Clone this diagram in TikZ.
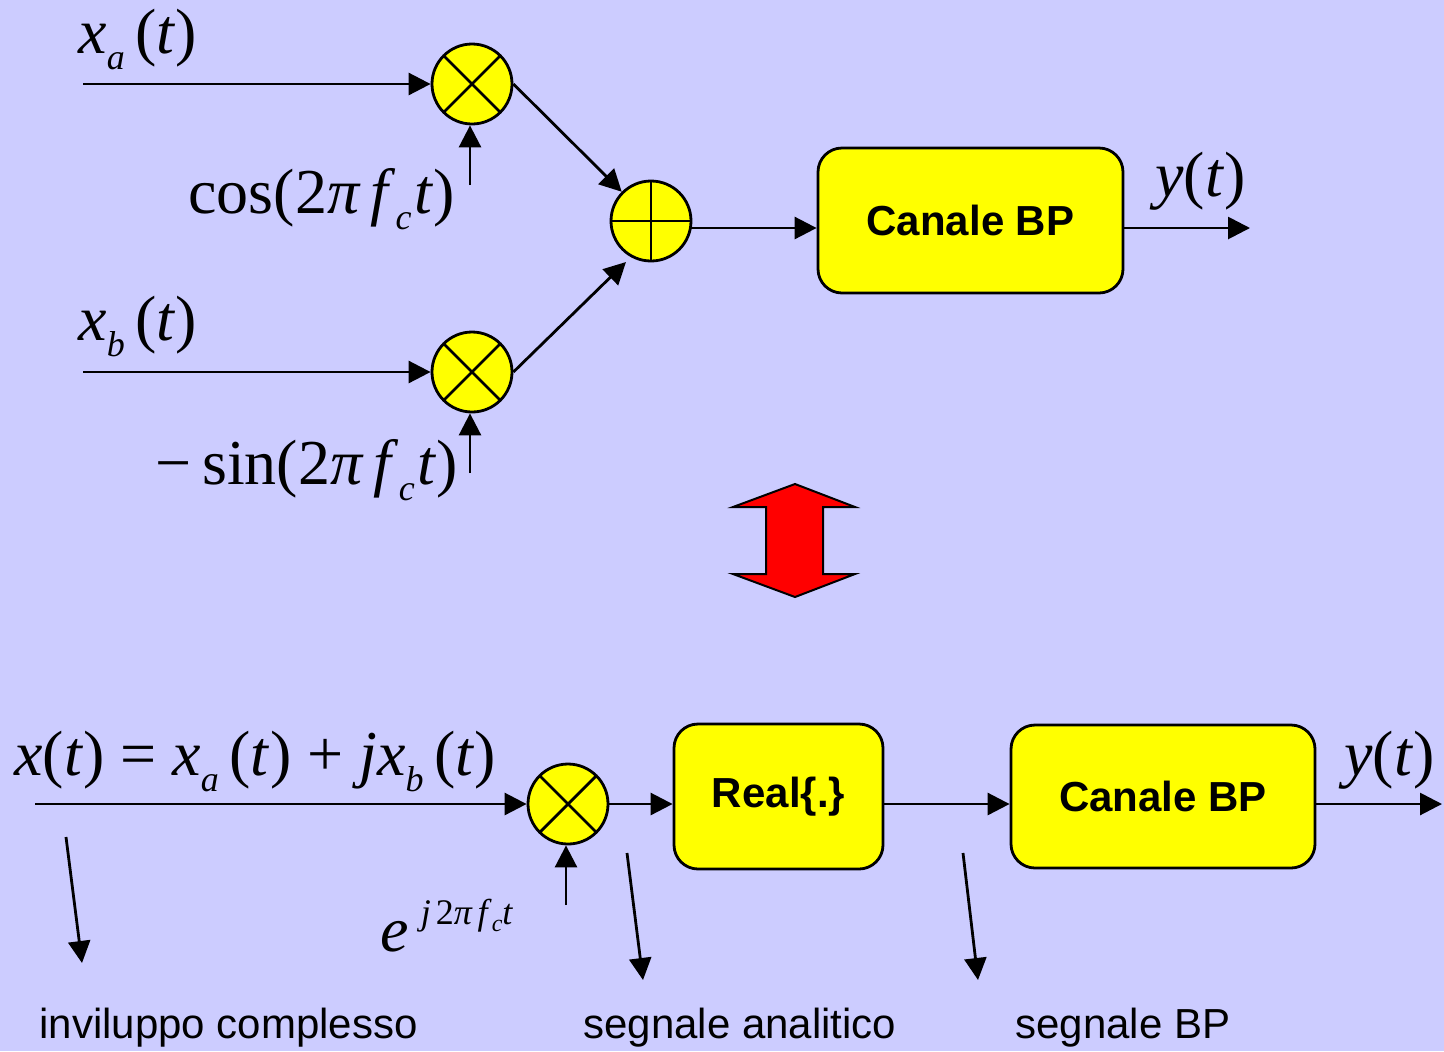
\documentclass[tikz,border=0pt]{standalone}
\usepackage{fontspec}
\setmainfont{Liberation Serif}
\newfontfamily\lsans{Liberation Sans}
\usepackage{graphicx}
\usetikzlibrary{arrows.meta}
\definecolor{bgcol}{RGB}{204,204,255}
\definecolor{blockyellow}{RGB}{255,255,0}
\definecolor{arrowred}{RGB}{255,0,0}
% italic variable and lowered italic subscript
\newcommand\mi[1]{\textit{#1}}
\newcommand\sbi[1]{\raisebox{-0.26em}{\fontsize{18pt}{18pt}\selectfont\itshape #1}}
\newcommand\opsp{\hspace{0.25em}}
\tikzset{
  wire/.style={line width=1.4pt},
  arr/.style={wire,-{Triangle[length=11pt,width=11pt]}},
  mult/.style={circle, draw, line width=1.4pt, fill=blockyellow,
    minimum size=40pt, inner sep=0pt,
    path picture={\draw[line width=1.4pt]
      (path picture bounding box.north west) -- (path picture bounding box.south east)
      (path picture bounding box.north east) -- (path picture bounding box.south west);}},
  adder/.style={circle, draw, line width=1.4pt, fill=blockyellow,
    minimum size=40pt, inner sep=0pt,
    path picture={\draw[line width=1.4pt]
      (path picture bounding box.north) -- (path picture bounding box.south)
      (path picture bounding box.west) -- (path picture bounding box.east);}},
  block/.style={draw, line width=1.4pt, fill=blockyellow, rounded corners=12pt,
    inner sep=0pt, font=\lsans\bfseries\fontsize{21pt}{25pt}\selectfont},
  mt/.style={inner sep=0pt, anchor=base west, font=\fontsize{32pt}{38pt}\selectfont},
  lab/.style={inner sep=0pt, anchor=base west, font=\lsans\fontsize{21pt}{25pt}\selectfont},
}
\begin{document}
\begin{tikzpicture}[x=0.5pt,y=-0.5pt]
\useasboundingbox (0,0) rectangle (1444,1051);
\fill[bgcol] (0,0) rectangle (1444,1051);

% ---- quadrature modulator ----
\node[mult] (m1) at (472,84) {};
\node[mult] (m2) at (472,372) {};
\node[adder] (add) at (651,221) {};
\node[block, minimum width=152.5pt, minimum height=72.5pt] (cb1) at (970.5,220.5) {Canale BP};

\coordinate (ina) at (83,84);
\coordinate (inb) at (83,372);
\coordinate (cosin) at (470,185);
\coordinate (sinin) at (470,473);
\coordinate (addin2) at (626,262);
\coordinate (addout) at (690.4,228);
\coordinate (out1) at (1250,228);

\draw[arr] (ina) -- (m1.west);
\draw[arr] (inb) -- (m2.west);
\draw[arr] (cosin) -- (cosin |- m1.south);
\draw[arr] (sinin) -- (sinin |- m2.south);
\draw[arr] (m1.east) -- (add.north west);
\draw[arr] (m2.east) -- (addin2);
\draw[arr] (addout) -- (cb1.west |- addout);
\draw[arr] (cb1.east |- addout) -- (out1);

\node[mt] (la) at (78,53) {\mi{x}\sbi{a}\,(\mi{t})};
\node[mt] (lcos) at (188,213) {cos(2\mi{π}\kern5pt\mi{f}\sbi{c}\kern1.5pt\mi{t})};
\node[mt] (lb) at (78,340) {\mi{x}\sbi{b}\,(\mi{t})};
\node[mt] (lsin) at (155,484) {−\,sin(2\mi{π}\kern5pt\mi{f}\sbi{c}\kern1.5pt\mi{t})};
\node[mt] (ly1) at (1155,196) {\mi{y}(\mi{t})};

% ---- equivalence arrow ----
\draw[line width=1pt, fill=arrowred] (795,484) -- (855,507) -- (823,507) -- (823,574)
  -- (855,574) -- (795,597) -- (733,574) -- (766,574) -- (766,507) -- (733,507) -- cycle;

% ---- complex envelope model ----
\node[mult] (m3) at (568,804) {};
\node[block, minimum width=104.5pt, minimum height=72.5pt] (re) at (778.5,796.5) {Real\{.\}};
\node[block, minimum width=152pt, minimum height=71.5pt] (cb2) at (1163,796.5) {Canale BP};

\coordinate (inx) at (35,804);
\coordinate (expin) at (566,905);
\coordinate (out2) at (1442,804);

\draw[arr] (inx) -- (m3.west);
\draw[arr] (expin) -- (expin |- m3.south);
\draw[arr] (m3.east) -- (re.west |- m3.east);
\draw[arr] (re.east |- m3.east) -- (cb2.west |- m3.east);
\draw[arr] (cb2.east |- m3.east) -- (out2);

\node[mt] (lx) at (14,775) {\mi{x}(\mi{t})\opsp=\opsp\mi{x}\sbi{a}\,(\mi{t})\opsp+\opsp\mi{jx}\sbi{b}\,(\mi{t})};
\node[mt] (lexp) at (380,951) {\mi{e}\kern6pt\raisebox{0.42em}{\fontsize{18pt}{18pt}\selectfont\mi{j}\kern2.5pt2\mi{π}\kern2.5pt\mi{f}\raisebox{-0.2em}{\fontsize{12pt}{12pt}\selectfont\mi{c}}\mi{t}}};
\node[mt] (ly2) at (1344,775) {\mi{y}(\mi{t})};

% pointers to the signal names
\coordinate (p1a) at (66,837);  \coordinate (p1b) at (82,963);
\coordinate (p2a) at (627,853); \coordinate (p2b) at (643,980);
\coordinate (p3a) at (963,853); \coordinate (p3b) at (978,980);
\draw[arr] (p1a) -- (p1b);
\draw[arr] (p2a) -- (p2b);
\draw[arr] (p3a) -- (p3b);

\node[lab] (t1) at (39,1038) {inviluppo complesso};
\node[lab] (t2) at (583,1038) {segnale analitico};
\node[lab] (t3) at (1015,1038) {segnale BP};
\end{tikzpicture}
\end{document}
